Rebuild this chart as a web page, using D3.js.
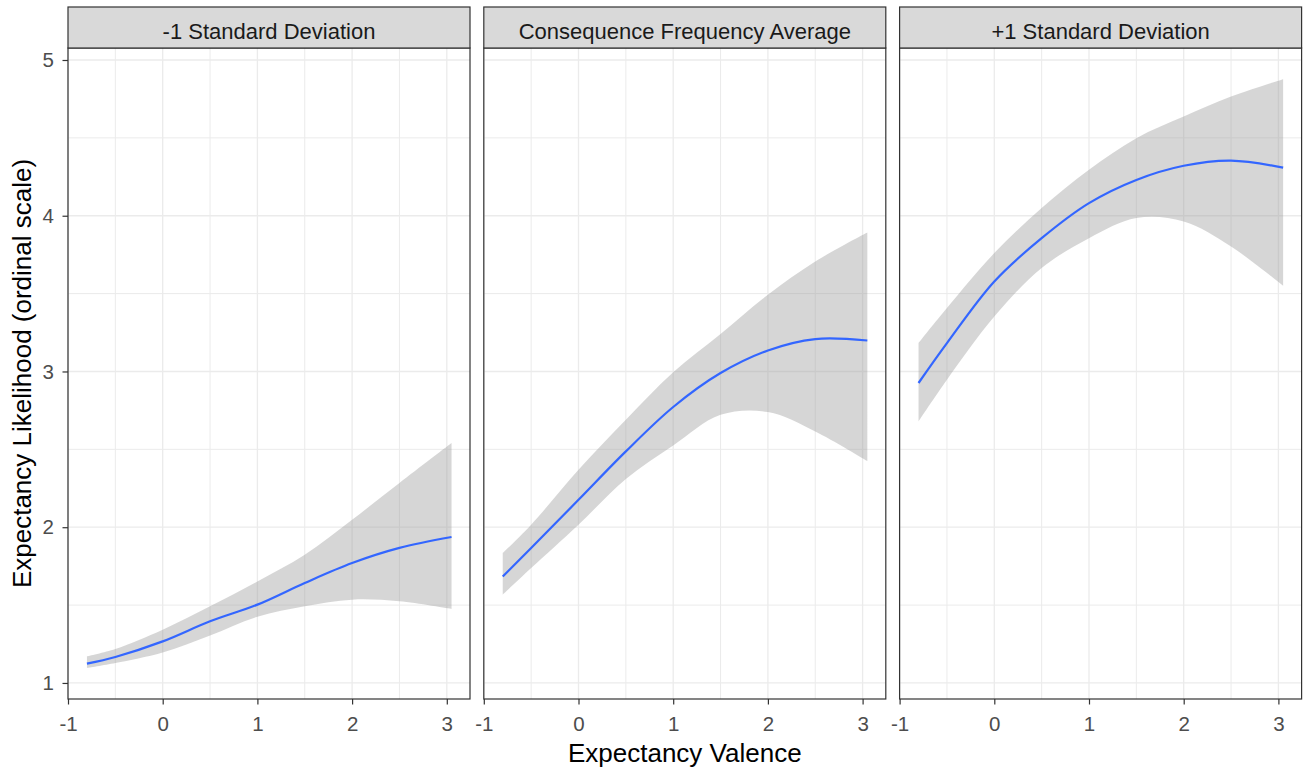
<!DOCTYPE html>
<html>
<head>
<meta charset="utf-8">
<script src="https://cdn.jsdelivr.net/npm/d3@7"></script>
<style>
  body { margin: 0; background: #fff; }
  svg { display: block; font-family: "Liberation Sans", Arial, sans-serif; }
</style>
</head>
<body>
<svg id="chart" width="1306" height="774"></svg>
<script>
// x positions where the smooth curves were read
const xVals = [-0.8, -0.5, 0, 0.5, 1, 1.5, 2, 2.5, 3.05];

// facet labels
const facetLabels = ["-1 Standard Deviation", "Consequence Frequency Average", "+1 Standard Deviation"];

// -1 SD
const lowFit   = [1.124, 1.167, 1.267, 1.396, 1.503, 1.642, 1.770, 1.867, 1.937];
const lowUpper = [1.171, 1.218, 1.342, 1.492, 1.652, 1.823, 2.048, 2.284, 2.540];
const lowLower = [1.096, 1.128, 1.196, 1.305, 1.425, 1.492, 1.535, 1.524, 1.475];

// average
const avgFit   = [1.684, 1.866, 2.176, 2.487, 2.772, 2.990, 3.135, 3.208, 3.199];
const avgUpper = [1.834, 2.016, 2.369, 2.690, 2.995, 3.240, 3.492, 3.706, 3.892];
const avgLower = [1.567, 1.738, 2.016, 2.310, 2.525, 2.722, 2.740, 2.615, 2.425];

// +1 SD
const highFit   = [2.926, 3.182, 3.578, 3.856, 4.081, 4.230, 4.321, 4.354, 4.309];
const highUpper = [3.182, 3.407, 3.760, 4.049, 4.295, 4.498, 4.637, 4.765, 4.877];
const highLower = [2.679, 2.947, 3.353, 3.664, 3.856, 3.985, 3.963, 3.802, 3.550];

const xTicks = [-1, 0, 1, 2, 3];
const xMinor = [-0.5, 0.5, 1.5, 2.5];
const yTicks = [1, 2, 3, 4, 5];
const yMinor = [1.5, 2.5, 3.5, 4.5];

const facets = [
  { label: facetLabels[0], fit: lowFit, upper: lowUpper, lower: lowLower },
  { label: facetLabels[1], fit: avgFit, upper: avgUpper, lower: avgLower },
  { label: facetLabels[2], fit: highFit, upper: highUpper, lower: highLower }
];

const svg = d3.select("#chart");
const padLeft = 68, padTop = 48, pw = 402, ph = 651, gap = 13.8, stripH = 41;

const x = d3.scaleLinear().domain([-1, 3.245]).range([0, pw]);
const y = d3.scaleLinear().domain([0.897, 5.077]).range([ph, 0]);

const area = d3.area()
  .x(d => x(d.x)).y0(d => y(d.lo)).y1(d => y(d.hi))
  .curve(d3.curveCatmullRom.alpha(0.5));
const line = d3.line()
  .x(d => x(d.x)).y(d => y(d.fit))
  .curve(d3.curveCatmullRom.alpha(0.5));

const fmt = d => String(d);

facets.forEach((f, i) => {
  const g = svg.append("g")
    .attr("transform", `translate(${padLeft + i * (pw + gap)},${padTop})`);

  g.append("rect").attr("width", pw).attr("height", ph).attr("fill", "#fff");

  // grid
  g.selectAll(".vminor").data(xMinor).enter().append("line")
    .attr("x1", d => x(d)).attr("x2", d => x(d)).attr("y1", 0).attr("y2", ph)
    .attr("stroke", "#ebebeb").attr("stroke-width", 1);
  g.selectAll(".hminor").data(yMinor).enter().append("line")
    .attr("y1", d => y(d)).attr("y2", d => y(d)).attr("x1", 0).attr("x2", pw)
    .attr("stroke", "#ebebeb").attr("stroke-width", 1);
  g.selectAll(".vmajor").data(xTicks).enter().append("line")
    .attr("x1", d => x(d)).attr("x2", d => x(d)).attr("y1", 0).attr("y2", ph)
    .attr("stroke", "#ebebeb").attr("stroke-width", 1.3);
  g.selectAll(".hmajor").data(yTicks).enter().append("line")
    .attr("y1", d => y(d)).attr("y2", d => y(d)).attr("x1", 0).attr("x2", pw)
    .attr("stroke", "#ebebeb").attr("stroke-width", 1.3);

  const pts = xVals.map((v, k) => ({ x: v, fit: f.fit[k], hi: f.upper[k], lo: f.lower[k] }));

  g.append("path").datum(pts).attr("d", area)
    .attr("fill", "#999999").attr("fill-opacity", 0.4);
  g.append("path").datum(pts).attr("d", line)
    .attr("fill", "none").attr("stroke", "#3366FF").attr("stroke-width", 2.2);

  // border
  g.append("rect").attr("width", pw).attr("height", ph)
    .attr("fill", "none").attr("stroke", "#333333").attr("stroke-width", 1.2);

  // strip
  g.append("rect").attr("y", -stripH).attr("width", pw).attr("height", stripH)
    .attr("fill", "#d9d9d9").attr("stroke", "#333333").attr("stroke-width", 1.2);
  g.append("text").attr("x", pw / 2).attr("y", -9)
    .attr("text-anchor", "middle").attr("fill", "#1a1a1a")
    .style("font-size", "22px").text(f.label);

  // x axis
  const xa = g.append("g").attr("transform", `translate(0,${ph})`)
    .call(d3.axisBottom(x).tickValues(xTicks).tickSize(5.5).tickPadding(12).tickFormat(fmt));
  xa.select(".domain").remove();
  xa.selectAll(".tick line").attr("stroke", "#333333").attr("stroke-width", 1.2);
  xa.selectAll(".tick text").attr("fill", "#4d4d4d").style("font-size", "20.5px");

  if (i === 0) {
    const ya = g.append("g")
      .call(d3.axisLeft(y).tickValues(yTicks).tickSize(5.5).tickPadding(8.5).tickFormat(fmt));
    ya.select(".domain").remove();
    ya.selectAll(".tick line").attr("stroke", "#333333").attr("stroke-width", 1.2);
    ya.selectAll(".tick text").attr("fill", "#4d4d4d").style("font-size", "20.5px");
  }
});

// axis titles
const totalW = 3 * pw + 2 * gap;
svg.append("text")
  .attr("x", padLeft + totalW / 2).attr("y", 761.5)
  .attr("text-anchor", "middle").attr("fill", "#000")
  .style("font-size", "26px").text("Expectancy Valence");
svg.append("text")
  .attr("transform", `translate(30.5,${padTop + ph / 2}) rotate(-90)`)
  .attr("text-anchor", "middle").attr("fill", "#000")
  .style("font-size", "26px").text("Expectancy Likelihood (ordinal scale)");
</script>
</body>
</html>
